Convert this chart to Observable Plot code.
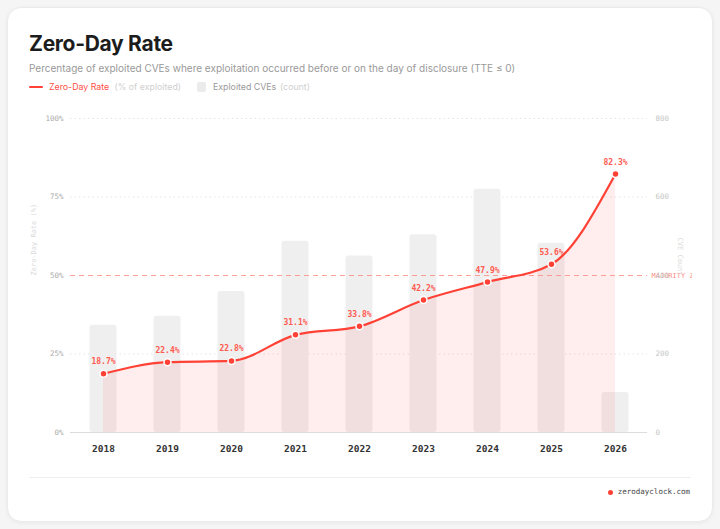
<!DOCTYPE html>
<html><head><meta charset="utf-8">
<script src="https://cdn.jsdelivr.net/npm/d3@7"></script>
<script src="https://cdn.jsdelivr.net/npm/@observablehq/plot@0.6"></script>
<style>
html,body{margin:0;padding:0;background:#f5f5f5;width:720px;height:529px;overflow:hidden;font-family:Inter,"Noto Sans",sans-serif}
.card{position:absolute;left:7px;top:7px;width:704px;height:513px;background:#fff;border:1px solid #ebebeb;border-radius:14px;box-shadow:0 1px 4px rgba(0,0,0,0.05)}
.abs{position:absolute;white-space:nowrap}
.title{left:29px;top:33px;font-size:21px;line-height:21px;font-weight:700;color:#1c1c1c;letter-spacing:-0.3px}
.subtitle{left:29px;top:62.5px;font-size:10px;line-height:10px;color:#999}
.lg{top:82px;font-size:8.8px;line-height:10px}
.sep{left:29px;top:477px;width:662px;height:1px;background:#eeeeee}
.foot{right:30px;top:487px;font-family:"DejaVu Sans Mono",monospace;font-size:7.5px;line-height:10px;color:#444}
#chart{position:absolute;left:19px;top:100px}
</style></head>
<body>
<div class="card"></div>
<div class="abs title">Zero-Day Rate</div>
<div class="abs subtitle">Percentage of exploited CVEs where exploitation occurred before or on the day of disclosure (TTE ≤ 0)</div>
<div class="abs" style="left:29px;top:86px;width:13.5px;height:2px;background:#ff4136;border-radius:1px"></div>
<div class="abs lg" style="left:49px;color:#ff5147">Zero-Day Rate</div>
<div class="abs lg" style="left:114.5px;color:#cfcfcf">(% of exploited)</div>
<div class="abs" style="left:196.5px;top:82px;width:9.5px;height:9.5px;background:#ebebeb;border-radius:2px"></div>
<div class="abs lg" style="left:213px;color:#9a9a9a">Exploited CVEs</div>
<div class="abs lg" style="left:280px;color:#cfcfcf">(count)</div>
<div id="chart"></div>
<div class="abs sep"></div>
<div class="abs" style="left:607.5px;top:489.5px;width:5px;height:5px;border-radius:50%;background:#ff4136"></div>
<div class="abs foot">zerodayclock.com</div>
<script>
const years = ["2018","2019","2020","2021","2022","2023","2024","2025","2026"];
const zeroDayRate = [18.7,22.4,22.8,31.1,33.8,42.2,47.9,53.6,82.3];
const exploitedCVEs = [273,296,359,487,450,504,620,482,102];
const rateTicks = [0,25,50,75,100];
const countTicks = [0,200,400,600,800];
const countMax = 800;
const majorityLevel = 50;

const data = years.map((year, i) => ({year, rate: zeroDayRate[i], count: exploitedCVEs[i]}));
const toPct = c => c / countMax * 100;
const mono = "DejaVu Sans Mono, monospace";

const chart = Plot.plot({
  width: 673, height: 365,
  marginLeft: 51, marginRight: 45, marginTop: 18, marginBottom: 33,
  style: {background: "transparent", overflow: "hidden"},
  x: {type: "band", domain: years, padding: 0},
  y: {domain: [0, 100]},
  marks: [
    Plot.ruleY([25, 75, 100], {stroke: "#e4e4e4", strokeDasharray: "1.5,3"}),
    Plot.barY(data, {x: "year", y: d => toPct(d.count), fill: "#efefef", insetLeft: 18.5, insetRight: 18.5, rx: 3}),
    Plot.areaY(data, {x: "year", y: "rate", curve: "monotone-x", fill: "#ff4136", fillOpacity: 0.09}),
    Plot.ruleY([0], {stroke: "#dddddd"}),
    Plot.ruleY([majorityLevel], {stroke: "#ff8a80", strokeOpacity: 0.8, strokeDasharray: "5,4"}),
    Plot.text(["MAJORITY ZONE"], {y: () => majorityLevel, text: d => d, frameAnchor: "right", dx: 4, textAnchor: "start", fill: "#ff8f86", fontFamily: mono, fontSize: 7}),
    Plot.line(data, {x: "year", y: "rate", curve: "monotone-x", stroke: "#ff4136", strokeWidth: 2.2}),
    Plot.dot(data, {x: "year", y: "rate", r: 3.5, fill: "#ff4136", stroke: "white", strokeWidth: 1.5}),
    Plot.text(data, {x: "year", y: "rate", text: d => d.rate.toFixed(1) + "%", dy: -12, fill: "#ff5a4f", fontFamily: mono, fontSize: 8, fontWeight: "bold"}),
    Plot.axisY(rateTicks, {anchor: "left", tickSize: 0, tickPadding: 7, tickFormat: d => d + "%", fontFamily: mono, fontSize: 7.5, color: "#aaaaaa", label: null}),
    Plot.axisY(rateTicks, {anchor: "right", tickSize: 0, tickPadding: 8, tickFormat: d => String(countTicks[rateTicks.indexOf(d)]), fontFamily: mono, fontSize: 7.5, color: "#c6c6c6", label: null}),
    Plot.axisX({tickSize: 0, tickPadding: 13, fontFamily: mono, fontSize: 9.5, fontWeight: "bold", color: "#333333", label: null}),
    Plot.text(["Zero-Day Rate (%)"], {frameAnchor: "left", text: d => d, rotate: -90, dx: -37, fill: "#d9d9d9", fontFamily: mono, fontSize: 7}),
    Plot.text(["CVE Count"], {frameAnchor: "right", text: d => d, rotate: 90, dx: 33, fill: "#d9d9d9", fontFamily: mono, fontSize: 7})
  ]
});
document.getElementById("chart").appendChild(chart);
</script>
</body></html>
